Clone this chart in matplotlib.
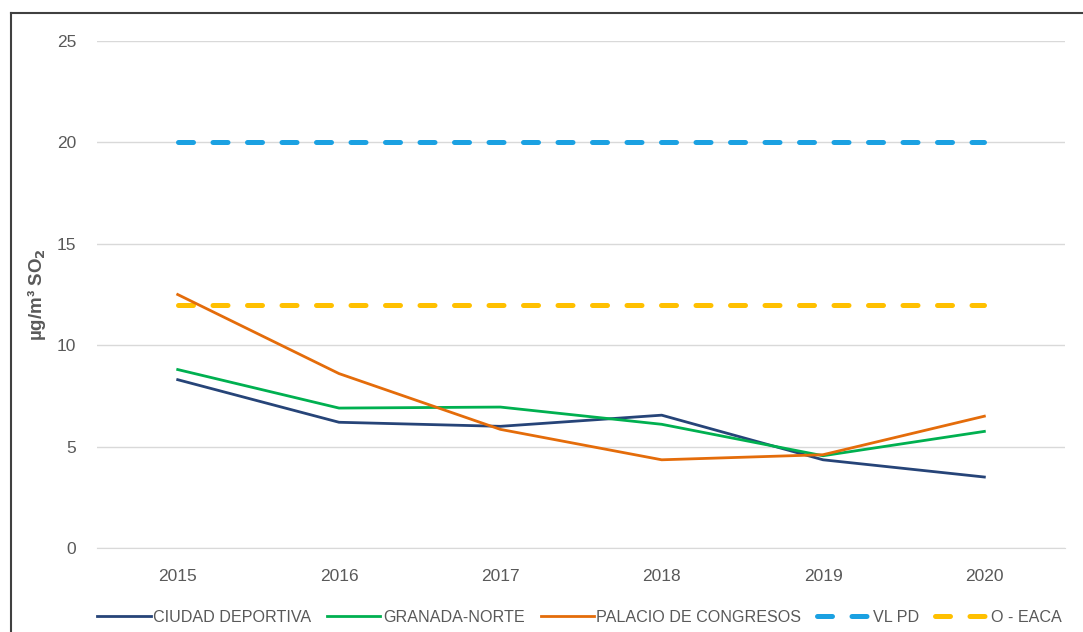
import matplotlib.pyplot as plt
from matplotlib.lines import Line2D

plt.rcParams["font.family"] = ["Liberation Sans", "DejaVu Sans"]

# datos
years = ["2015", "2016", "2017", "2018", "2019", "2020"]
ciudad_deportiva = [8.3, 6.2, 6.0, 6.55, 4.35, 3.5]
granada_norte = [8.8, 6.9, 6.95, 6.1, 4.55, 5.75]
palacio_congresos = [12.5, 8.6, 5.85, 4.35, 4.6, 6.5]
vl_pd = [20, 20, 20, 20, 20, 20]
o_eaca = [12, 12, 12, 12, 12, 12]

grey = "#595959"

fig = plt.figure(figsize=(10.83, 6.32), dpi=100)
ax = fig.add_axes([0.0896, 0.1329, 0.8938, 0.8022])

x = list(range(len(years)))
ax.plot(x, ciudad_deportiva, color="#264478", lw=2.0, label="CIUDAD DEPORTIVA", zorder=4)
ax.plot(x, granada_norte, color="#00B050", lw=2.0, label="GRANADA-NORTE", zorder=4)
ax.plot(x, palacio_congresos, color="#E46C0A", lw=2.0, label="PALACIO DE CONGRESOS", zorder=4)
ax.plot(x, vl_pd, color="#1BA1E2", lw=3.6, dashes=(3.0, 3.9), dash_capstyle="round",
        label="VL PD", zorder=3)
ax.plot(x, o_eaca, color="#FFC000", lw=3.6, dashes=(3.0, 3.9), dash_capstyle="round",
        label="O - EACA", zorder=3)

ax.set_xlim(-0.5, 5.5)
ax.set_ylim(0, 25)
ax.set_yticks([0, 5, 10, 15, 20, 25])
ax.set_xticks(x)
ax.set_xticklabels(years)
ax.grid(axis="y", color="#D9D9D9", lw=1.0)
ax.set_axisbelow(True)
for s in ["top", "right", "left"]:
    ax.spines[s].set_visible(False)
ax.spines["bottom"].set_color("#D9D9D9")
ax.tick_params(axis="both", length=0, labelsize=12.5, colors=grey)
ax.tick_params(axis="y", pad=15)
ax.tick_params(axis="x", pad=15)

ax.set_ylabel("µg/m³ SO$_\\mathbf{2}$", fontsize=13.5, fontweight="bold", color=grey, labelpad=6)

# leyenda
fig.legend(loc="lower center", bbox_to_anchor=(0.535, -0.012), ncol=5, frameon=False,
           fontsize=11.6, handlelength=3.3, columnspacing=1.0, handletextpad=0.15,
           labelcolor=grey)

# marco del gráfico
fig.add_artist(Line2D([0.0105, 0.0105], [0, 0.979], color="#404040", lw=1.5))
fig.add_artist(Line2D([0.0105, 1.0], [0.979, 0.979], color="#404040", lw=1.5))

plt.savefig("out.png", dpi=100)
